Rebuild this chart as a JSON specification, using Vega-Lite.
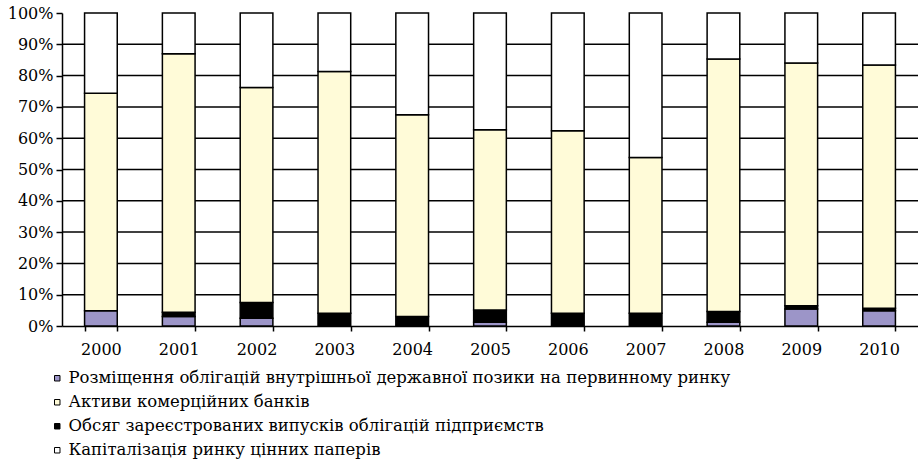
{
  "$schema": "https://vega.github.io/schema/vega-lite/v6.json",
  "autosize": {"type": "none"},
  "padding": {"left": 62, "top": 13, "right": 0, "bottom": 136},
  "width": 856,
  "height": 313,
  "background": "white",
  "config": {"view": {"stroke": null}, "font": "DejaVu Serif"},
  "datasets": {
    "grid": [{"g": 10}, {"g": 20}, {"g": 30}, {"g": 40}, {"g": 50}, {"g": 60}, {"g": 70}, {"g": 80}, {"g": 90}],
    "shares": [
      {"year": "2000", "series": "Розміщення облігацій внутрішньої державної позики на первинному ринку", "ord": 1, "value": 4.9},
      {"year": "2000", "series": "Активи комерційних банків", "ord": 3, "value": 69.5},
      {"year": "2000", "series": "Капіталізація ринку цінних паперів", "ord": 4, "value": 25.6},
      {"year": "2001", "series": "Розміщення облігацій внутрішньої державної позики на первинному ринку", "ord": 1, "value": 3.0},
      {"year": "2001", "series": "Обсяг зареєстрованих випусків облігацій підприємств", "ord": 2, "value": 1.4},
      {"year": "2001", "series": "Активи комерційних банків", "ord": 3, "value": 82.6},
      {"year": "2001", "series": "Капіталізація ринку цінних паперів", "ord": 4, "value": 13.0},
      {"year": "2002", "series": "Розміщення облігацій внутрішньої державної позики на первинному ринку", "ord": 1, "value": 2.5},
      {"year": "2002", "series": "Обсяг зареєстрованих випусків облігацій підприємств", "ord": 2, "value": 5.0},
      {"year": "2002", "series": "Активи комерційних банків", "ord": 3, "value": 68.7},
      {"year": "2002", "series": "Капіталізація ринку цінних паперів", "ord": 4, "value": 23.8},
      {"year": "2003", "series": "Обсяг зареєстрованих випусків облігацій підприємств", "ord": 2, "value": 4.1},
      {"year": "2003", "series": "Активи комерційних банків", "ord": 3, "value": 77.2},
      {"year": "2003", "series": "Капіталізація ринку цінних паперів", "ord": 4, "value": 18.7},
      {"year": "2004", "series": "Обсяг зареєстрованих випусків облігацій підприємств", "ord": 2, "value": 3.0},
      {"year": "2004", "series": "Активи комерційних банків", "ord": 3, "value": 64.5},
      {"year": "2004", "series": "Капіталізація ринку цінних паперів", "ord": 4, "value": 32.5},
      {"year": "2005", "series": "Розміщення облігацій внутрішньої державної позики на первинному ринку", "ord": 1, "value": 1.2},
      {"year": "2005", "series": "Обсяг зареєстрованих випусків облігацій підприємств", "ord": 2, "value": 3.9},
      {"year": "2005", "series": "Активи комерційних банків", "ord": 3, "value": 57.6},
      {"year": "2005", "series": "Капіталізація ринку цінних паперів", "ord": 4, "value": 37.3},
      {"year": "2006", "series": "Обсяг зареєстрованих випусків облігацій підприємств", "ord": 2, "value": 4.1},
      {"year": "2006", "series": "Активи комерційних банків", "ord": 3, "value": 58.3},
      {"year": "2006", "series": "Капіталізація ринку цінних паперів", "ord": 4, "value": 37.6},
      {"year": "2007", "series": "Обсяг зареєстрованих випусків облігацій підприємств", "ord": 2, "value": 4.1},
      {"year": "2007", "series": "Активи комерційних банків", "ord": 3, "value": 49.7},
      {"year": "2007", "series": "Капіталізація ринку цінних паперів", "ord": 4, "value": 46.2},
      {"year": "2008", "series": "Розміщення облігацій внутрішньої державної позики на первинному ринку", "ord": 1, "value": 1.2},
      {"year": "2008", "series": "Обсяг зареєстрованих випусків облігацій підприємств", "ord": 2, "value": 3.4},
      {"year": "2008", "series": "Активи комерційних банків", "ord": 3, "value": 80.7},
      {"year": "2008", "series": "Капіталізація ринку цінних паперів", "ord": 4, "value": 14.7},
      {"year": "2009", "series": "Розміщення облігацій внутрішньої державної позики на первинному ринку", "ord": 1, "value": 5.4},
      {"year": "2009", "series": "Обсяг зареєстрованих випусків облігацій підприємств", "ord": 2, "value": 1.1},
      {"year": "2009", "series": "Активи комерційних банків", "ord": 3, "value": 77.5},
      {"year": "2009", "series": "Капіталізація ринку цінних паперів", "ord": 4, "value": 16.0},
      {"year": "2010", "series": "Розміщення облігацій внутрішньої державної позики на первинному ринку", "ord": 1, "value": 4.9},
      {"year": "2010", "series": "Обсяг зареєстрованих випусків облігацій підприємств", "ord": 2, "value": 0.8},
      {"year": "2010", "series": "Активи комерційних банків", "ord": 3, "value": 77.7},
      {"year": "2010", "series": "Капіталізація ринку цінних паперів", "ord": 4, "value": 16.6}
    ]
  },
  "layer": [
    {
      "data": {"name": "grid"},
      "mark": {"type": "rule", "color": "black", "strokeWidth": 1.5},
      "encoding": {
        "y": {
          "field": "g", "type": "quantitative", "scale": {"domain": [0, 100], "nice": false},
          "axis": {
            "title": null, "values": [0, 10, 20, 30, 40, 50, 60, 70, 80, 90, 100],
            "labelExpr": "datum.value + '%'", "labelOverlap": false,
            "labelFont": "DejaVu Serif", "labelFontSize": 16, "labelColor": "black",
            "domainColor": "black", "domainWidth": 1.5,
            "tickColor": "black", "tickWidth": 1.5, "tickSize": 6, "labelPadding": 3,
            "grid": false
          }
        }
      }
    },
    {
      "data": {"name": "shares"},
      "mark": {"type": "bar", "stroke": "black", "strokeWidth": 1.5},
      "encoding": {
        "x": {
          "field": "year", "type": "nominal",
          "scale": {"paddingInner": 0.58, "paddingOuter": 0.29},
          "axis": {
            "title": null, "labelAngle": 0, "labelFont": "DejaVu Serif", "labelFontSize": 16,
            "labelColor": "black", "domainColor": "black", "domainWidth": 1.5,
            "tickColor": "black", "tickWidth": 1.5, "tickSize": 5, "tickBand": "extent",
            "labelPadding": 10
          }
        },
        "y": {
          "field": "value", "type": "quantitative", "stack": "zero",
          "scale": {"domain": [0, 100], "nice": false},
          "axis": {
            "title": null, "values": [0, 10, 20, 30, 40, 50, 60, 70, 80, 90, 100],
            "labelExpr": "datum.value + '%'", "labelOverlap": false,
            "labelFont": "DejaVu Serif", "labelFontSize": 16, "labelColor": "black",
            "domainColor": "black", "domainWidth": 1.5,
            "tickColor": "black", "tickWidth": 1.5, "tickSize": 6, "labelPadding": 3,
            "grid": false
          }
        },
        "color": {
          "field": "series", "type": "nominal",
          "scale": {
            "domain": [
              "Розміщення облігацій внутрішньої державної позики на первинному ринку",
              "Активи комерційних банків",
              "Обсяг зареєстрованих випусків облігацій підприємств",
              "Капіталізація ринку цінних паперів"
            ],
            "range": ["#9C95C8", "#FFFBD8", "#000000", "#FFFFFF"]
          },
          "legend": {
            "title": null, "orient": "none", "legendX": -13, "legendY": 357,
            "direction": "vertical",
            "symbolType": "square", "symbolSize": 30, "symbolStrokeColor": "black", "symbolStrokeWidth": 1,
            "labelFont": "DejaVu Serif", "labelFontSize": 16.5, "labelColor": "black",
            "labelLimit": 900, "rowPadding": 7, "labelOffset": 3
          }
        },
        "order": {"field": "ord", "type": "quantitative"}
      }
    }
  ]
}
